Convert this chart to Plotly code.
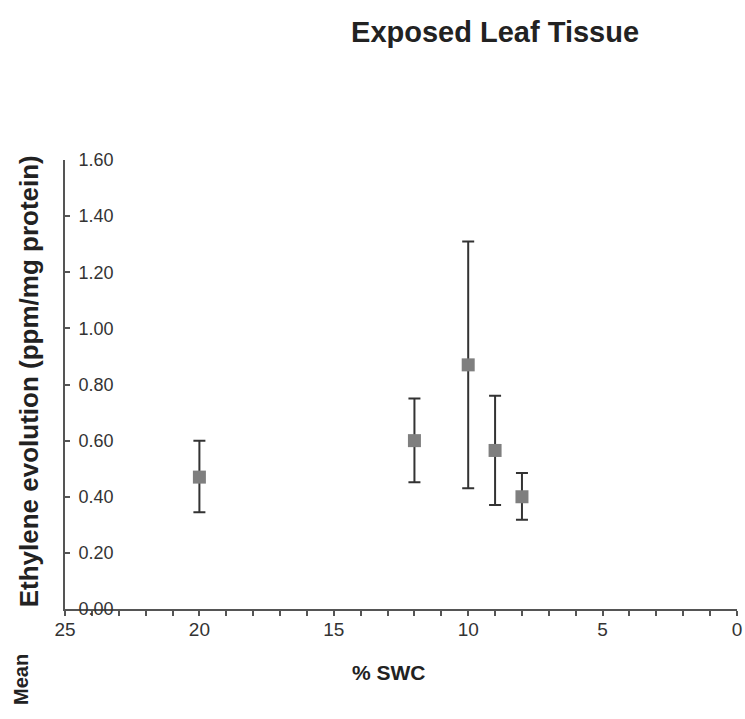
import plotly.graph_objects as go

swc = [20, 12, 10, 9, 8]
mean_ethylene = [0.47, 0.60, 0.87, 0.565, 0.40]
upper = [0.60, 0.75, 1.31, 0.76, 0.485]
lower = [0.345, 0.452, 0.43, 0.371, 0.318]

err_plus = [u - m for u, m in zip(upper, mean_ethylene)]
err_minus = [m - l for m, l in zip(mean_ethylene, lower)]

FONT = "Liberation Sans, Arial, sans-serif"

fig = go.Figure()
fig.add_trace(go.Scatter(
    x=swc, y=mean_ethylene, mode="markers",
    marker=dict(symbol="square", size=13, color="#7f7f7f", line=dict(width=0)),
    error_y=dict(type="data", array=err_plus, arrayminus=err_minus,
                 color="#333333", thickness=2, width=6, symmetric=False),
    showlegend=False, cliponaxis=False,
))

fig.update_layout(
    width=745, height=719,
    margin=dict(l=65, r=8, t=160, b=110, autoexpand=False),
    paper_bgcolor="white", plot_bgcolor="white",
    font=dict(family=FONT, color="#333333"),
    title=dict(text="<b>Exposed Leaf Tissue</b>", x=0.64, xref="paper", xanchor="center",
               y=1 - 32 / 719, yref="container", yanchor="middle",
               font=dict(size=29, color="#222222", family=FONT)),
    xaxis=dict(range=[25, 0], dtick=5, tick0=0, showgrid=False, zeroline=False,
               automargin=False,
               showline=True, linecolor="#555555", linewidth=1.5,
               ticks="outside", ticklen=5, tickcolor="#555555", tickwidth=1.5,
               ticklabelstandoff=-3,
               tickfont=dict(size=19, color="#333333"),
               minor=dict(dtick=1, ticks="outside", ticklen=5, tickcolor="#555555", tickwidth=1.5,
                          showgrid=False)),
    yaxis=dict(range=[0, 1.6], dtick=0.2, tickformat=".2f", showgrid=False, zeroline=False,
               automargin=False,
               showline=True, linecolor="#555555", linewidth=1.5,
               ticks="inside", ticklen=5, tickcolor="#555555", tickwidth=1.5,
               ticklabelposition="outside", ticklabelstandoff=-54,
               tickfont=dict(size=18, color="#333333")),
)

fig.add_annotation(text="<b>Ethylene evolution (ppm/mg protein)</b>", textangle=-90,
                   xref="paper", yref="paper", x=(29 - 65) / 672, y=0.507,
                   xanchor="center", yanchor="middle", showarrow=False,
                   font=dict(size=26, color="#222222", family=FONT))
fig.add_annotation(text="<b>% SWC</b>", xref="paper", yref="paper",
                   x=(389 - 65) / 672, y=(609 - 672) / 449,
                   xanchor="center", yanchor="middle", showarrow=False,
                   font=dict(size=21, color="#222222", family=FONT))
fig.add_annotation(text="<b>Mean</b>", textangle=-90, xref="paper", yref="paper",
                   x=(21 - 65) / 672, y=(609 - 680) / 449,
                   xanchor="center", yanchor="middle", showarrow=False,
                   font=dict(size=20, color="#222222", family=FONT))

fig.write_html("out.html", config={"displayModeBar": False},
               post_script="document.body.style.margin='0';document.body.style.overflow='hidden';")
